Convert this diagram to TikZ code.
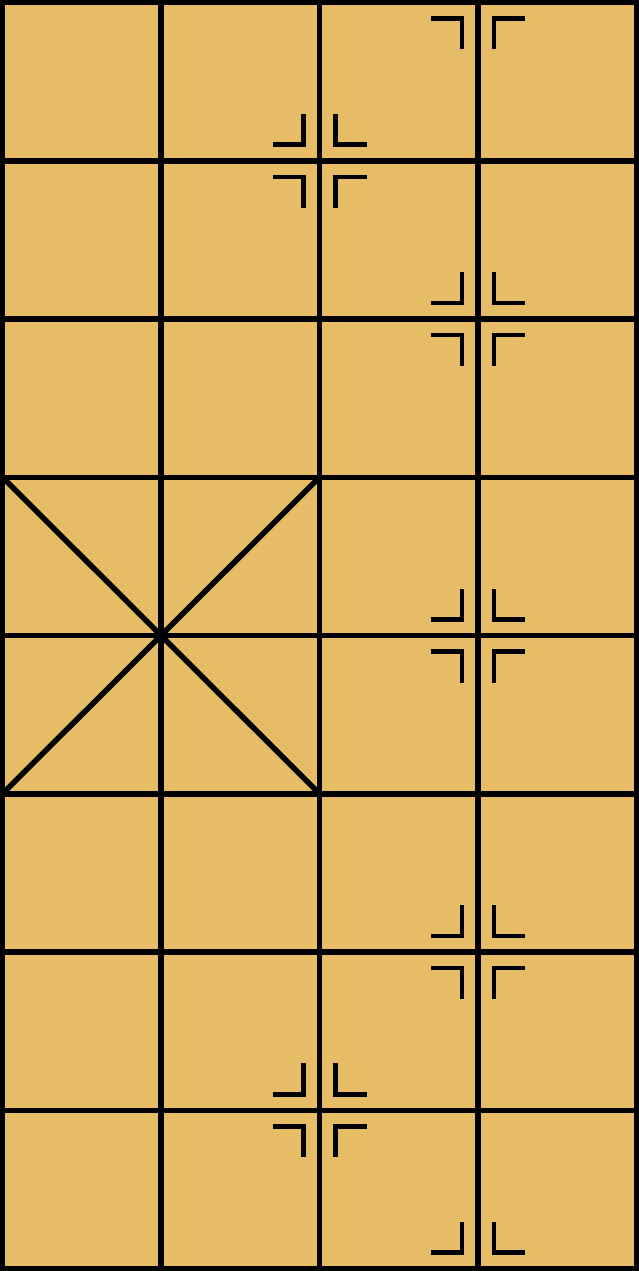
\documentclass[tikz,border=0pt]{standalone}
\definecolor{board}{RGB}{230,188,102}
\tikzset{gridline/.style={line width=5.5pt,black},
  marksty/.style={line width=4.5pt,black,line cap=butt,line join=miter}}
\newcommand\qm[4]{\draw[marksty,shift={(#1,#2)}] (#3*47,#4*16) -- (#3*16,#4*16) -- (#3*16,#4*47);}
\newcommand\fullmark[2]{\qm{#1}{#2}{-1}{-1}\qm{#1}{#2}{1}{-1}\qm{#1}{#2}{-1}{1}\qm{#1}{#2}{1}{1}}
\begin{document}
\begin{tikzpicture}[x=1pt,y=-1pt]
\fill[board] (0,0) rectangle (639,1271);
\useasboundingbox (0,0) rectangle (639,1271);
\def\gx#1{2.5+158.5*#1}
\def\gy#1{2.5+158.25*#1}
\foreach \i in {0,...,4} \draw[gridline] ({\gx{\i}},2.5) -- ({\gx{\i}},1268.5);
\foreach \j in {0,...,8} \draw[gridline] (2.5,{\gy{\j}}) -- (636.5,{\gy{\j}});
\draw[gridline] (2.5,{\gy{3}}) -- ({\gx{2}},{\gy{5}});
\draw[gridline] (2.5,{\gy{5}}) -- ({\gx{2}},{\gy{3}});
\draw[gridline,line join=miter] (2.5,2.5) rectangle (636.5,1268.5);
% marks
\qm{478}{2.5}{-1}{1}\qm{478}{2.5}{1}{1}
\fullmark{319.5}{160.75}
\fullmark{478}{319}
\fullmark{478}{635.5}
\fullmark{478}{952}
\fullmark{319.5}{1110.25}
\qm{478}{1268.5}{-1}{-1}\qm{478}{1268.5}{1}{-1}
\end{tikzpicture}
\end{document}
